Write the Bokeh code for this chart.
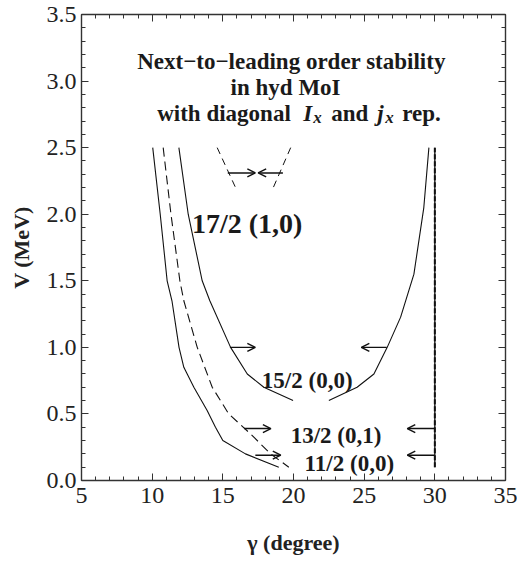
from bokeh.plotting import figure
from bokeh.models import (Range1d, LinearAxis, SingleIntervalTicker, PrintfTickFormatter,
                          Arrow, OpenHead, ColumnDataSource)
from bokeh.core.properties import value
from bokeh.embed import file_html
from bokeh.resources import INLINE

# ---------------- data ----------------
# 11/2 (0,0) left boundary (solid)
g_11_left = [10.04, 10.57, 11.06, 11.40, 11.90, 12.24, 12.95, 13.89, 14.48, 15.00, 16.60, 18.96]
V_11_left = [2.50, 2.00, 1.50, 1.35, 1.00, 0.85, 0.70, 0.526, 0.40, 0.30, 0.20, 0.10]
# 13/2 (0,1) left boundary (dashed)
g_13_left = [10.78, 11.33, 11.96, 12.24, 13.19, 14.25, 15.42, 16.96, 18.38, 19.67]
V_13_left = [2.50, 2.00, 1.50, 1.35, 1.00, 0.70, 0.50, 0.35, 0.20, 0.10]
# 15/2 (0,0) left and right boundaries (solid)
g_15_left = [11.89, 12.55, 13.54, 14.08, 15.55, 16.73, 17.90, 19.97]
V_15_left = [2.50, 2.00, 1.50, 1.35, 1.00, 0.80, 0.70, 0.60]
g_15_right = [22.50, 24.50, 25.69, 26.63, 27.58, 28.52, 29.22, 29.58]
V_15_right = [0.60, 0.70, 0.80, 1.00, 1.227, 1.55, 2.05, 2.50]
# right boundary of 11/2 (solid) and 13/2 (dashed) at gamma = 30
g_30 = [30.0, 30.0]
V_30 = [0.10, 2.50]
# 17/2 (1,0) boundaries (dashed)
g_17_left = [14.60, 15.90]
V_17_left = [2.50, 2.20]
g_17_right = [19.80, 18.57]
V_17_right = [2.50, 2.20]

# arrows showing stable direction
arrow_start = [15.35, 19.25, 15.50, 26.60, 16.50, 30.00, 17.30, 30.00]
arrow_end = [17.30, 17.50, 17.30, 24.80, 18.40, 28.05, 19.10, 28.05]
arrow_V = [2.31, 2.31, 1.00, 1.00, 0.39, 0.39, 0.19, 0.19]

# curve labels
labels = ["17/2 (1,0)", "15/2 (0,0)", "13/2 (0,1)", "11/2 (0,0)"]
label_g = [16.72, 20.97, 23.01, 23.95]
label_V = [1.933, 0.751, 0.338, 0.125]
label_size = ["28px", "23px", "23px", "23px"]

title_lines = ["Next\u2212to\u2212leading order stability", "in hyd MoI"]
title_g = [19.86, 19.44]
title_V = [3.148, 2.953]

x_ticks_interval = 5
y_ticks_interval = 0.5

FONT = "Liberation Serif"
INK = "#111111"
AX = "#333333"

p = figure(width=517, height=563,
           x_range=Range1d(5, 35), y_range=Range1d(0, 3.5),
           output_backend="svg", toolbar_location=None,
           min_border_left=81, min_border_right=12, min_border_top=14, min_border_bottom=83)
p.xgrid.visible = False
p.ygrid.visible = False
p.outline_line_color = None
p.background_fill_color = "white"
p.border_fill_color = "white"

xt = SingleIntervalTicker(interval=x_ticks_interval, num_minor_ticks=5)
yt = SingleIntervalTicker(interval=y_ticks_interval, num_minor_ticks=5)


def style(ax, show_labels):
    ax.major_tick_in = 7
    ax.major_tick_out = 0
    ax.minor_tick_in = 4
    ax.minor_tick_out = 0
    ax.axis_line_color = AX
    ax.axis_line_width = 1.4
    ax.major_tick_line_color = AX
    ax.minor_tick_line_color = AX
    ax.major_tick_line_width = 1
    ax.minor_tick_line_width = 1
    ax.major_label_text_font = FONT
    ax.major_label_text_color = "#222222"
    if show_labels:
        ax.major_label_text_font_size = "24px"
    else:
        ax.major_label_text_font_size = "0px"
        ax.major_label_standoff = 0
        ax.major_label_text_alpha = 0


xa = p.xaxis[0]
xa.ticker = xt
xa.formatter = PrintfTickFormatter(format="%d")
style(xa, True)
xa.major_label_standoff = 7
xa.axis_label = "\u03b3 (degree)"
xa.axis_label_text_font = FONT
xa.axis_label_text_font_style = "bold"
xa.axis_label_text_font_size = "22px"
xa.axis_label_text_color = "#222222"
xa.axis_label_standoff = 24

ya = p.yaxis[0]
ya.ticker = yt
ya.formatter = PrintfTickFormatter(format="%.1f")
style(ya, True)
ya.major_label_standoff = 5
ya.axis_label = "V (MeV)"
ya.axis_label_text_font = FONT
ya.axis_label_text_font_style = "bold"
ya.axis_label_text_font_size = "22px"
ya.axis_label_text_color = "#222222"
ya.axis_label_standoff = 10

top = LinearAxis(ticker=SingleIntervalTicker(interval=x_ticks_interval, num_minor_ticks=5))
style(top, False)
p.add_layout(top, "above")
right = LinearAxis(ticker=SingleIntervalTicker(interval=y_ticks_interval, num_minor_ticks=5))
style(right, False)
p.add_layout(right, "right")

# curves
p.line(g_11_left, V_11_left, line_color=INK, line_width=1.1)
p.line(g_13_left, V_13_left, line_color=INK, line_width=1.1, line_dash="9 5")
p.line(g_15_left, V_15_left, line_color=INK, line_width=1.1)
p.line(g_15_right, V_15_right, line_color=INK, line_width=1.1)
p.line(g_30, V_30, line_color=INK, line_width=1.3)
p.line(g_30, V_30, line_color=INK, line_width=2.0, line_dash="5 2")
p.line(g_17_left, V_17_left, line_color=INK, line_width=1.0, line_dash="7 5")
p.line(g_17_right, V_17_right, line_color=INK, line_width=1.0, line_dash="7 5")

# arrows
asrc = ColumnDataSource(dict(x0=arrow_start, x1=arrow_end, y=arrow_V))
p.add_layout(Arrow(end=OpenHead(size=8, line_width=1.4, line_color=INK),
                   x_start="x0", y_start="y", x_end="x1", y_end="y",
                   source=asrc, line_width=1.4, line_color=INK))

# curve labels
for t, gx, vy, fs in zip(labels, label_g, label_V, label_size):
    p.text(x=[gx], y=[vy], text=[t], text_font=value(FONT), text_font_style="bold",
           text_font_size=fs, text_align="center", text_baseline="alphabetic",
           text_color="#1a1a1a")

# title
for t, gx, vy in zip(title_lines, title_g, title_V):
    p.text(x=[gx], y=[vy], text=[t], text_font=value(FONT), text_font_style="bold",
           text_font_size="23px", text_align="center", text_baseline="alphabetic",
           text_color="#1a1a1a")

line3_g = 10.357
line3_V = 2.757
pieces = [("with diagonal", 0, "bold", "23px", 0.0),
          ("I", 146, "bold italic", "23px", 0.0),
          ("x", 156, "bold italic", "17px", 0.03),
          ("and", 174, "bold", "23px", 0.0),
          ("j", 220, "bold italic", "23px", 0.0),
          ("x", 228, "bold italic", "17px", 0.03),
          ("rep.", 245, "bold", "23px", 0.0)]
for t, dx, st, fs, dv in pieces:
    p.text(x=[line3_g], y=[line3_V - dv], text=[t], x_offset=dx, text_font=value(FONT),
           text_font_style=st, text_font_size=fs, text_align="left",
           text_baseline="alphabetic", text_color="#1a1a1a")

open("out.html", "w").write(file_html(p, INLINE))
